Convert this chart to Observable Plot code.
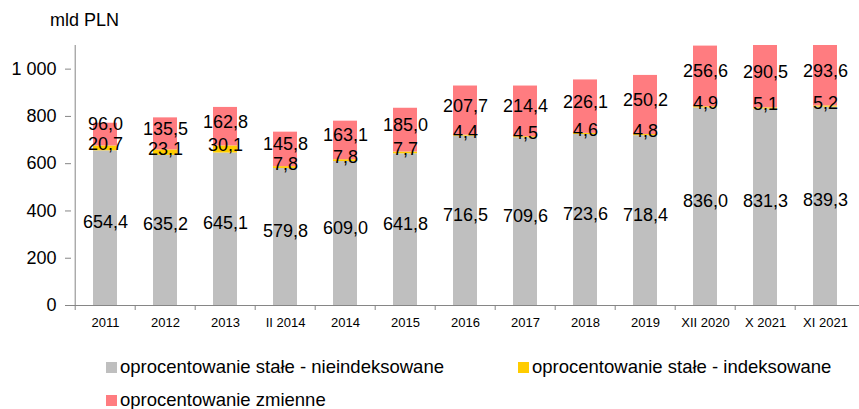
<!DOCTYPE html>
<html><head><meta charset="utf-8">
<script src="https://cdn.jsdelivr.net/npm/d3@7"></script>
<script src="https://cdn.jsdelivr.net/npm/@observablehq/plot@0.6"></script>
<style>
body{margin:0;background:#fff;font-family:"Liberation Sans",Arial,sans-serif;color:#000;}
#wrap{position:relative;width:859px;height:409px;overflow:hidden;}
#unit{position:absolute;left:50px;top:9px;font-size:18px;line-height:22px;}
.leg{position:absolute;font-size:18.5px;line-height:22px;height:22px;display:flex;align-items:center;white-space:nowrap;}
.sw{width:11px;height:11px;margin-right:3px;flex:none;}
</style></head><body>
<div id="wrap"><div id="chart"></div><div id="unit">mld PLN</div><div id="legend"></div></div>
<script>
const categories = ["2011","2012","2013","II 2014","2014","2015","2016","2017","2018","2019","XII 2020","X 2021","XI 2021"];
const fixedNonIndexed = [654.4,635.2,645.1,579.8,609.0,641.8,716.5,709.6,723.6,718.4,836.0,831.3,839.3];
const fixedIndexed = [20.7,23.1,30.1,7.8,7.8,7.7,4.4,4.5,4.6,4.8,4.9,5.1,5.2];
const variableRate = [96.0,135.5,162.8,145.8,163.1,185.0,207.7,214.4,226.1,250.2,256.6,290.5,293.6];
const seriesNames = ["oprocentowanie stałe - nieindeksowane","oprocentowanie stałe - indeksowane","oprocentowanie zmienne"];
const seriesColors = ["#BFBFBF","#FFCC00","#FF7C80"];
const yTicks = [0,200,400,600,800,1000];
const yMax = 1100;

const W = 859, H = 340, mL = 71, mR = 0, mT = 45, mB = 35;
const step = (W - mL - mR) / categories.length;
const pxPerUnit = (H - mT - mB) / yMax;
const labelOffsets = [0, 2, 1];   // px shift per series (style)
const minSep = 20;                // px minimum gap between stacked labels

const seriesValues = [fixedNonIndexed, fixedIndexed, variableRate];
const rows = [];
categories.forEach((c, i) => {
  let acc = 0;
  let prevDy = null, prevMid = null;
  seriesValues.forEach((vals, s) => {
    const v = vals[i];
    const y1 = acc, y2 = acc + v;
    const mid = (y1 + Math.min(y2, yMax)) / 2;
    let dy = labelOffsets[s];
    if (s === 2 && prevMid !== null) {
      // pixel distance above previous (yellow) label
      const gap = (mid - prevMid) * pxPerUnit - dy + prevDy;
      if (gap < minSep) dy -= (minSep - gap);
    }
    rows.push({cat: c, series: seriesNames[s], color: seriesColors[s], value: v, y1, y2,
      ymid: mid, dy, label: d3.format(".1f")(v).replace(".", ",")});
    prevDy = dy; prevMid = mid;
    acc = y2;
  });
});

const fmtY = d => d3.format(",")(d).replace(",", " ");
const axisColor = "#868686";

const chart = Plot.plot({
  width: W, height: H,
  marginLeft: mL, marginRight: mR, marginTop: mT, marginBottom: mB,
  style: {fontFamily: '"Liberation Sans", Arial, sans-serif', color: "#000", background: "#fff", overflow: "visible"},
  x: {domain: categories, paddingInner: 0.6, paddingOuter: 0.3, align: 0.5, label: null},
  y: {domain: [0, yMax], label: null},
  marks: [
    Plot.barY(rows, {x: "cat", y1: "y1", y2: "y2", fill: "color", clip: true}),
    ...[0, 1, 2].map(s => Plot.text(rows.filter((r, k) => k % 3 === s), {
      x: "cat", y: "ymid", text: "label", fontSize: 18, fill: "#000",
      render: (index, scales, values, dims, context, next) => {
        const g = next(index, scales, values, dims, context);
        const data = rows.filter((r, k) => k % 3 === s);
        g.querySelectorAll("text").forEach((t, j) => {
          const i = index[j];
          const y = +t.getAttribute("y") || 0;
          if (t.hasAttribute("y")) t.setAttribute("y", y + data[i].dy);
          else {
            const tr = t.getAttribute("transform") || "";
            t.setAttribute("transform", tr + ` translate(0,${data[i].dy})`);
          }
        });
        return g;
      }
    })),
    Plot.ruleY([0], {stroke: axisColor}),
    Plot.ruleX([categories[0]], {dx: -step / 2, y1: 0, y2: yMax, stroke: axisColor}),
    Plot.ruleX(categories, {dx: -step / 2, y1: 0, y2: 0, insetBottom: -5, stroke: axisColor}),
    Plot.axisY({ticks: yTicks, tickSize: 6, tickPadding: 9, tickFormat: fmtY, fontSize: 18, stroke: axisColor}),
    Plot.axisX({tickSize: 0, tickPadding: 12, fontSize: 13})
  ]
});
document.getElementById("chart").appendChild(chart);

const legendPos = [[106, 356], [518, 356], [106, 389]];
const legend = document.getElementById("legend");
seriesNames.forEach((n, i) => {
  const d = document.createElement("div");
  d.className = "leg";
  d.style.left = legendPos[i][0] + "px";
  d.style.top = legendPos[i][1] + "px";
  d.innerHTML = `<span class="sw" style="background:${seriesColors[i]}"></span><span>${n}</span>`;
  legend.appendChild(d);
});
</script>
</body></html>
